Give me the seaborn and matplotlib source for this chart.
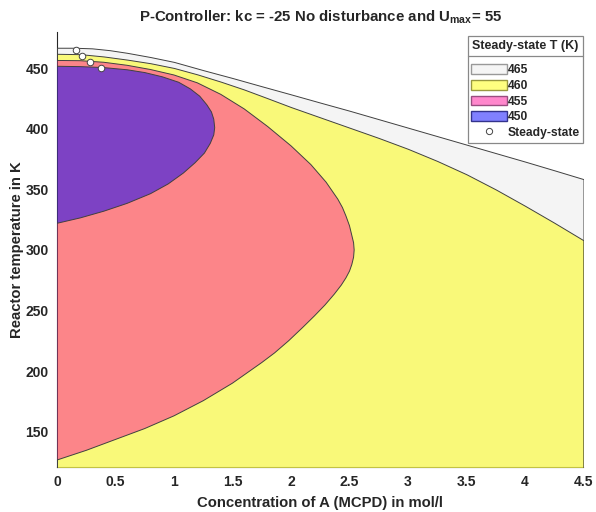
import matplotlib
matplotlib.use("Agg")
import matplotlib.pyplot as plt
import seaborn as sns
from matplotlib.patches import Patch
from matplotlib.lines import Line2D
from matplotlib.ticker import FormatStrFormatter

# upper edge of the 465 K region
c465 = [0, 0.15, 0.3, 0.45, 0.6, 0.8, 1.0, 1.25, 1.5, 1.75, 2.0, 2.25, 2.5, 2.75,
        3.0, 3.25, 3.5, 3.75, 4.0, 4.25, 4.5]
t465 = [467, 467, 466.5, 465, 462.8, 459.3, 455.3, 448.5, 442, 435.2, 428.5, 421.7,
        415, 408, 401, 394, 387, 380, 373, 365.8, 358.5]

# upper edge of the 460 K region
c460 = [0, 0.2, 0.4, 0.6, 0.8, 1.0, 1.2, 1.4, 1.6, 1.8, 2.0, 2.25, 2.5, 2.75, 3.0,
        3.25, 3.5, 3.75, 4.0, 4.25, 4.5]
t460 = [462, 461.7, 459.8, 457.2, 454.2, 450.3, 445, 439, 432.5, 425.3, 418, 409.5,
        401, 392.5, 383.5, 373.5, 362.5, 350, 336.5, 322.5, 308]

# closed outline of the 455 K region
c455 = [0, 0.2, 0.4, 0.6, 0.8, 1.0, 1.2, 1.4, 1.6, 1.8, 2.0, 2.17, 2.3, 2.4, 2.44,
        2.47, 2.5, 2.52, 2.535, 2.54, 2.535, 2.52, 2.5, 2.47, 2.43, 2.37, 2.29, 2.2,
        2.1, 1.98, 1.86, 1.75, 1.5, 1.25, 1.0, 0.75, 0.5, 0.25, 0]
t455 = [456.5, 456.3, 455, 452.5, 449, 444.5, 438, 428.5, 416.5, 402, 386, 370.5,
        356, 342, 335, 328, 320, 312, 306, 300, 294, 288, 282.5, 277, 271, 263.5,
        254.5, 245.5, 236, 225, 215, 207, 190, 175.5, 163, 152.5, 143.5, 134.5, 126.5]

# closed outline of the 450 K region
c450 = [0, 0.2, 0.4, 0.6, 0.75, 0.9, 1.04, 1.14, 1.22, 1.28, 1.32, 1.34, 1.348,
        1.34, 1.31, 1.26, 1.18, 1.08, 0.95, 0.8, 0.6, 0.4, 0.2, 0]
t450 = [451.7, 451.4, 450.6, 448.8, 446.5, 443, 438.5, 433, 427, 420, 414, 408, 401,
        395, 388, 380, 372, 363.5, 354.5, 346.5, 338.5, 332, 326.5, 322]

levels = ["465", "460", "455", "450"]
ss_conc = [0.16, 0.215, 0.285, 0.375]
ss_temp = [465.5, 460.3, 455.4, 450.4]

sns.set_style("white")
plt.rcParams['font.family'] = ['Liberation Sans', 'DejaVu Sans']
plt.rcParams['font.weight'] = 'bold'
plt.rcParams['axes.labelweight'] = 'bold'
plt.rcParams['axes.titleweight'] = 'bold'
plt.rcParams['mathtext.fontset'] = 'custom'
plt.rcParams['mathtext.bf'] = 'Liberation Sans:bold'
plt.rcParams['mathtext.rm'] = 'Liberation Sans:bold'

fig, ax = plt.subplots(figsize=(5.96, 5.12), dpi=100)
fig.subplots_adjust(left=0.0956, right=0.979, bottom=0.0885, top=0.9375)

edge = (0.25, 0.25, 0.25, 1)
floor = 100
ax.fill_between(c465, t465, floor, facecolor=(0.92, 0.92, 0.92, 0.5),
                edgecolor=edge, lw=0.7, zorder=3)
ax.fill_between(c460, t460, floor, facecolor=(1, 1, 0, 0.5),
                edgecolor=edge, lw=0.7, zorder=3)
ax.fill(c455, t455, facecolor=(1, 0.07, 0.6, 0.5), edgecolor=edge, lw=0.7, zorder=3)
ax.fill(c450, t450, facecolor=(0, 0, 1, 0.5), edgecolor=edge, lw=0.7, zorder=3)
sns.scatterplot(x=ss_conc, y=ss_temp, marker='o', s=22, color='white',
                edgecolor='#444444', linewidth=0.7, zorder=5, ax=ax)

ax.set_xlim(0, 4.5)
ax.set_ylim(121, 480)
ax.set_xticks([0, 0.5, 1, 1.5, 2, 2.5, 3, 3.5, 4, 4.5])
ax.set_yticks([150, 200, 250, 300, 350, 400, 450])
ax.xaxis.set_major_formatter(FormatStrFormatter('%g'))
ax.set_axisbelow(True)
ax.tick_params(direction='in', length=3, width=0.6, labelsize=10, pad=6,
               colors='#262626')
for s in ['top', 'right']:
    ax.spines[s].set_visible(False)
for s in ['left', 'bottom']:
    ax.spines[s].set_color('#262626')
    ax.spines[s].set_linewidth(0.8)

ax.set_title(r'P-Controller: kc = -25 No disturbance and U$_{\mathbf{max}}$= 55',
             fontsize=10.8, pad=8)
ax.set_xlabel('Concentration of A (MCPD) in mol/l', fontsize=10.7, labelpad=5)
ax.set_ylabel('Reactor temperature in K', fontsize=10.7, labelpad=1)

handles = [
    Patch(facecolor=(0.96, 0.96, 0.96), edgecolor=(0.6, 0.6, 0.6)),
    Patch(facecolor=(1, 1, 0.5), edgecolor=(0.6, 0.6, 0.25)),
    Patch(facecolor=(1, 0.53, 0.8), edgecolor=(0.6, 0.3, 0.5)),
    Patch(facecolor=(0.5, 0.5, 1), edgecolor=(0.2, 0.2, 0.55)),
    Line2D([], [], marker='o', ls='none', mfc='white', mec='#444444', ms=4.5, mew=0.7),
]
leg = ax.legend(handles, levels + ["Steady-state"], title="Steady-state T (K)",
                loc='upper right', bbox_to_anchor=(1.0, 0.99), fontsize=8.7,
                title_fontproperties={'weight': 'bold', 'size': 9},
                frameon=True, fancybox=False, edgecolor='#888888', framealpha=1,
                handlelength=2.9, handleheight=0.85, handletextpad=0.1,
                labelspacing=0.3, borderpad=0.3, borderaxespad=0)
leg.get_frame().set_linewidth(0.9)
leg._legend_box.sep = 9  # room for the separator line below the title

# separator line under the legend title
fig.canvas.draw()
lb = leg.get_window_extent()
tb = leg.get_title().get_window_extent()
y_sep = tb.y0 - 4
fw, fh = fig.bbox.width, fig.bbox.height
fig.add_artist(Line2D([lb.x0 / fw, lb.x1 / fw], [y_sep / fh, y_sep / fh],
                      color='#888888', lw=0.9, transform=fig.transFigure, zorder=10))

fig.savefig('out.png', dpi=100)
